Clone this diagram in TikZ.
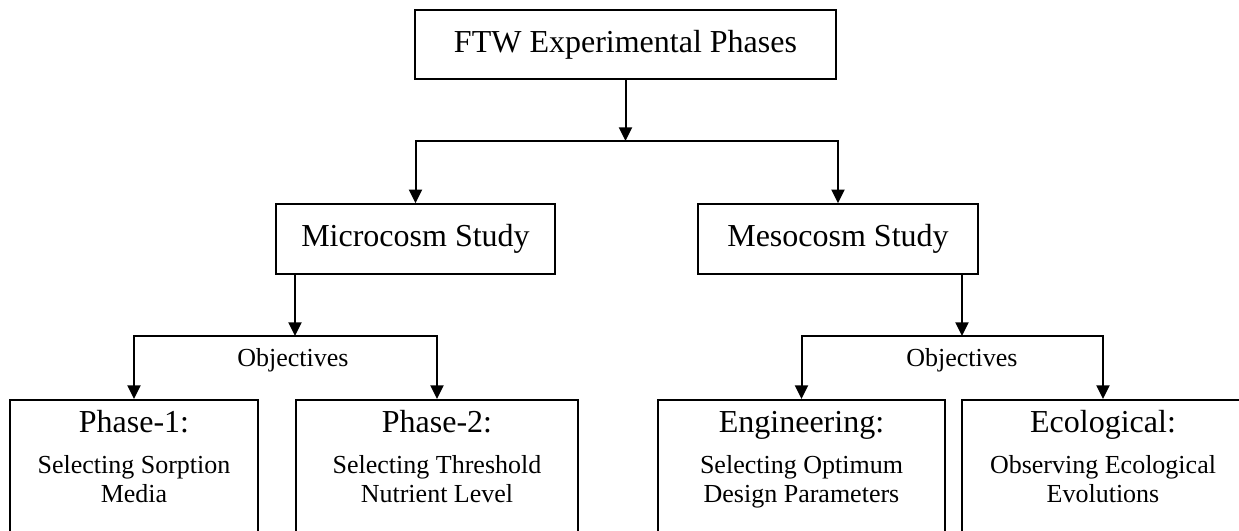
\documentclass[tikz,border=0pt]{standalone}
\usepackage{fontspec}
\setmainfont{Liberation Serif}
\usetikzlibrary{arrows.meta, positioning}
\newcommand{\goalhead}[1]{{\fontsize{16}{19}\selectfont\vphantom{h}#1}}
\tikzset{
  phasebox/.style={draw, line width=0.9pt, font=\fontsize{16}{19}\selectfont},
  goalbox/.style={draw, line width=0.9pt, anchor=north, align=center, inner ysep=5pt, text depth=60pt, font=\fontsize{13}{14.5}\selectfont},
  objtxt/.style={font=\fontsize{13}{15}\selectfont},
  arr/.style={line width=1pt, -{Triangle[length=6.8pt,width=6.5pt]}}
}

\begin{document}
\begin{tikzpicture}[x=0.5pt, y=-0.5pt]
  \useasboundingbox (0,0) rectangle (1239,531);
  % phases
  \node[phasebox, minimum width=210.5pt, minimum height=34.5pt] (ftw) at (625.5,44.5) {FTW Experimental Phases};
  \node[phasebox, minimum width=139.5pt, minimum height=35pt] (micro) at (415.5,239) {Microcosm Study};
  \node[phasebox, minimum width=140pt, minimum height=35pt] (meso) at (838,239) {Mesocosm Study};
  % objectives
  \node[objtxt] (objA) at (293,360) {Objectives};
  \node[objtxt] (objB) at (962,360) {Objectives};
  \node[goalbox, minimum width=124pt] (phaseA) at (134,399) {\goalhead{Phase-1:}\\[6pt] Selecting Sorption\\ Media};
  \node[goalbox, minimum width=141pt] (phaseB) at (437,399) {\goalhead{Phase-2:}\\[6pt] Selecting Threshold\\ Nutrient Level};
  \node[goalbox, minimum width=143.5pt] (engg) at (801.5,399) {\goalhead{Engineering:}\\[6pt] Selecting Optimum\\ Design Parameters};
  \node[goalbox, minimum width=141pt] (ecol) at (1103,399) {\goalhead{Ecological:}\\[6pt] Observing Ecological\\ Evolutions};
  % connectors
  \coordinate (forkTop) at (625.5,141);
  \coordinate (forkA) at (295,336);
  \coordinate (forkB) at (962,336);
  \draw[arr] (ftw) -- (forkTop);
  \draw[arr] (forkTop) -| (micro);
  \draw[arr] (forkTop) -| (meso);
  \draw[arr] (micro.south -| forkA) -- (forkA);
  \draw[arr] (forkA) -| (phaseA);
  \draw[arr] (forkA) -| (phaseB);
  \draw[arr] (meso.south -| forkB) -- (forkB);
  \draw[arr] (forkB) -| (engg);
  \draw[arr] (forkB) -| (ecol);
\end{tikzpicture}
\end{document}
